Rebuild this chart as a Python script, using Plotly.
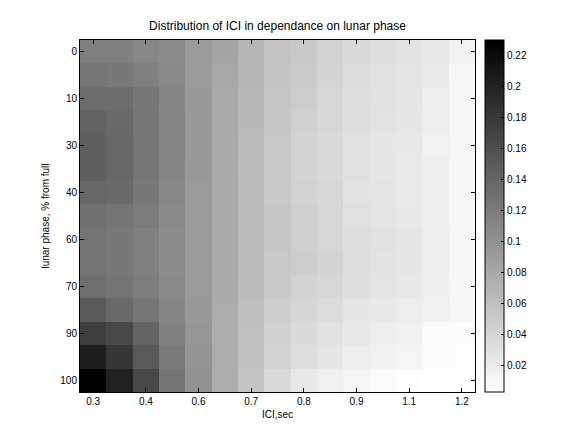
import plotly.graph_objects as go

title = "Distribution of ICI in dependance on lunar phase"
x_label = "ICI,sec"
y_label = "lunar phase, % from full"

col_index = list(range(1, 16))
row_index = list(range(1, 16))
x_tick_pos = [1, 3, 5, 7, 9, 11, 13, 15]
x_tick_text = ["0.3", "0.4", "0.6", "0.7", "0.8", "0.9", "1.1", "1.2"]
y_tick_pos = [1, 3, 5, 7, 9, 11, 13, 15]
y_tick_text = ["0", "10", "30", "40", "60", "70", "90", "100"]
cbar_ticks = [0.02, 0.04, 0.06, 0.08, 0.10, 0.12, 0.14, 0.16, 0.18, 0.20, 0.22]
cbar_text = ["0.02", "0.04", "0.06", "0.08", "0.1", "0.12", "0.14", "0.16", "0.18", "0.2", "0.22"]
c_min = 0.0026
c_max = 0.230

row_01 = [0.116, 0.116, 0.110, 0.105, 0.092, 0.083, 0.069, 0.056, 0.052, 0.043, 0.036, 0.032, 0.028, 0.023, 0.014]
row_02 = [0.125, 0.123, 0.116, 0.107, 0.092, 0.080, 0.067, 0.056, 0.049, 0.041, 0.034, 0.029, 0.027, 0.022, 0.011]
row_03 = [0.134, 0.134, 0.123, 0.111, 0.094, 0.078, 0.065, 0.053, 0.047, 0.038, 0.032, 0.029, 0.027, 0.019, 0.011]
row_04 = [0.143, 0.136, 0.125, 0.112, 0.094, 0.078, 0.065, 0.053, 0.044, 0.038, 0.032, 0.028, 0.025, 0.019, 0.011]
row_05 = [0.145, 0.138, 0.125, 0.112, 0.094, 0.078, 0.064, 0.052, 0.041, 0.036, 0.029, 0.025, 0.023, 0.014, 0.011]
row_06 = [0.145, 0.138, 0.125, 0.111, 0.094, 0.078, 0.063, 0.052, 0.041, 0.036, 0.029, 0.025, 0.022, 0.018, 0.010]
row_07 = [0.138, 0.136, 0.123, 0.110, 0.092, 0.078, 0.064, 0.052, 0.043, 0.038, 0.028, 0.027, 0.022, 0.018, 0.010]
row_08 = [0.130, 0.127, 0.120, 0.108, 0.092, 0.078, 0.064, 0.053, 0.045, 0.038, 0.030, 0.027, 0.023, 0.018, 0.010]
row_09 = [0.127, 0.123, 0.116, 0.105, 0.092, 0.078, 0.064, 0.053, 0.045, 0.038, 0.032, 0.029, 0.025, 0.019, 0.010]
row_10 = [0.127, 0.123, 0.116, 0.105, 0.092, 0.078, 0.064, 0.052, 0.047, 0.041, 0.032, 0.028, 0.025, 0.019, 0.010]
row_11 = [0.132, 0.127, 0.118, 0.107, 0.092, 0.078, 0.063, 0.052, 0.043, 0.038, 0.031, 0.027, 0.023, 0.018, 0.009]
row_12 = [0.150, 0.136, 0.125, 0.111, 0.094, 0.077, 0.061, 0.047, 0.039, 0.034, 0.025, 0.023, 0.019, 0.016, 0.011]
row_13 = [0.175, 0.166, 0.141, 0.116, 0.096, 0.077, 0.059, 0.044, 0.036, 0.029, 0.023, 0.019, 0.016, 0.007, 0.005]
row_14 = [0.203, 0.181, 0.151, 0.121, 0.098, 0.077, 0.059, 0.041, 0.032, 0.025, 0.019, 0.016, 0.012, 0.007, 0.004]
row_15 = [0.228, 0.201, 0.166, 0.127, 0.101, 0.077, 0.056, 0.036, 0.023, 0.016, 0.012, 0.007, 0.004, 0.003, 0.003]

z = [row_01, row_02, row_03, row_04, row_05, row_06, row_07, row_08,
     row_09, row_10, row_11, row_12, row_13, row_14, row_15]

FONT = "Liberation Sans, Arial, Helvetica, sans-serif"

fig = go.Figure(go.Heatmap(
    x=col_index, y=row_index, z=z,
    zmin=c_min, zmax=c_max,
    colorscale=[[0, "white"], [1, "black"]],
    showscale=True,
    colorbar=dict(
        x=1.026, xanchor="left", y=0.5, yanchor="middle",
        len=1, lenmode="fraction", thickness=19, thicknessmode="pixels",
        outlinewidth=1, outlinecolor="black",
        tickvals=cbar_ticks, ticktext=cbar_text,
        ticks="inside", ticklen=3, tickcolor="black",
        tickfont=dict(family=FONT, size=10, color="black"),
        xpad=0, ypad=0,
    ),
    hoverongaps=False,
))

fig.update_layout(
    width=576, height=432,
    margin=dict(l=72, r=109, t=32, b=48),
    paper_bgcolor="white", plot_bgcolor="white",
    font=dict(family=FONT, size=10, color="black"),
    title=dict(text=title, x=(72 + 197.5) / 576, xanchor="center",
               y=1 - 18 / 432, yanchor="middle",
               font=dict(family=FONT, size=12, color="black")),
    xaxis=dict(
        range=[0.5, 15.5], tickvals=x_tick_pos, ticktext=x_tick_text,
        ticks="inside", ticklen=4, tickcolor="black",
        showline=True, linecolor="black", linewidth=1, mirror="ticks",
        showgrid=False, zeroline=False,
        title=dict(text=x_label, standoff=4, font=dict(family=FONT, size=10)),
    ),
    yaxis=dict(
        range=[15.5, 0.5], tickvals=y_tick_pos, ticktext=y_tick_text,
        ticks="inside", ticklen=4, tickcolor="black",
        showline=True, linecolor="black", linewidth=1, mirror="ticks",
        showgrid=False, zeroline=False,
        title=dict(text=y_label, standoff=8, font=dict(family=FONT, size=10)),
    ),
)

fig.write_html("out.html")
